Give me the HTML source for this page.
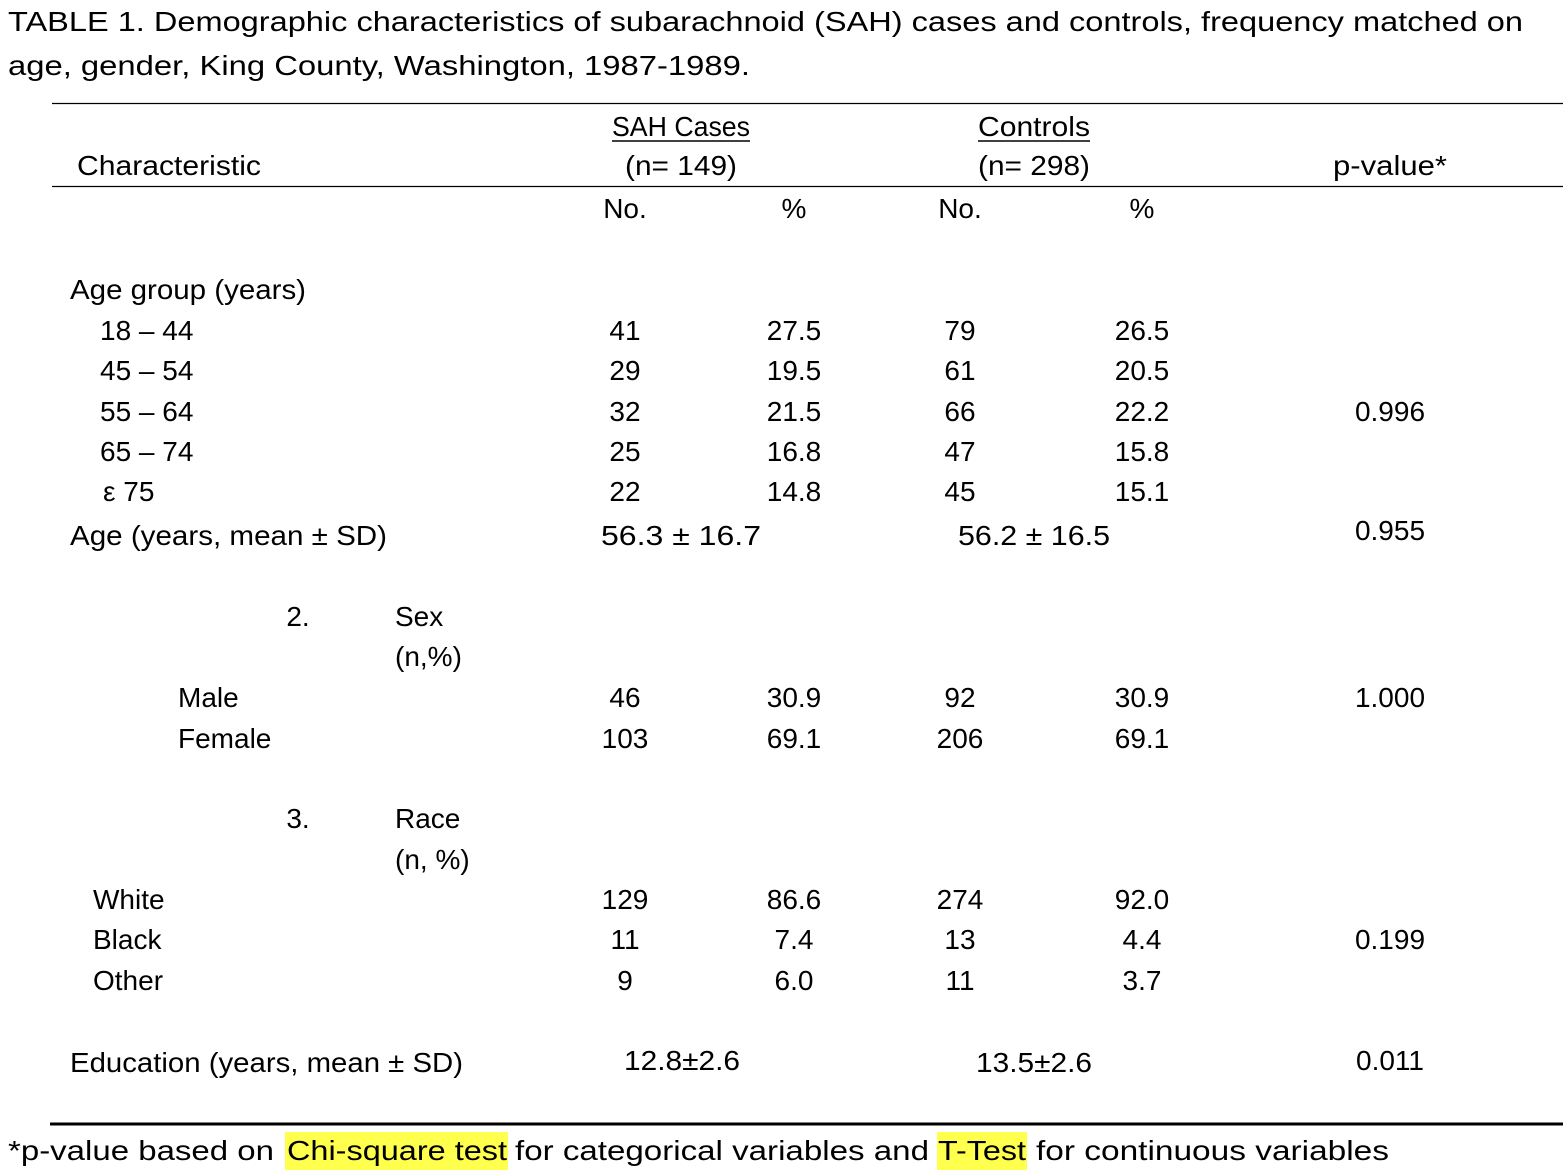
<!DOCTYPE html>
<html><head><meta charset="utf-8"><style>
html,body{margin:0;padding:0;background:#fff;}
svg{display:block;}
text{font-family:"Liberation Sans","DejaVu Sans",sans-serif;font-size:28px;fill:#000;}
.m{text-anchor:middle;}
</style></head><body>
<svg width="1568" height="1176" viewBox="0 0 1568 1176" xmlns="http://www.w3.org/2000/svg">
<g transform="translate(0,-1)">
<text x="8" y="32" textLength="1515" lengthAdjust="spacingAndGlyphs">TABLE 1.  Demographic characteristics of subarachnoid (SAH) cases and controls, frequency matched on</text>
<text x="8" y="76" textLength="742" lengthAdjust="spacingAndGlyphs">age, gender, King County, Washington, 1987-1989.</text>
</g>
<line x1="52" y1="103.5" x2="1563" y2="103.5" stroke="#000" stroke-width="1.2"/>
<g transform="translate(0,-1)">
<text x="681" y="137" class="m" textLength="138" lengthAdjust="spacingAndGlyphs">SAH Cases</text>
<text x="1034" y="137" class="m" textLength="112" lengthAdjust="spacingAndGlyphs">Controls</text>
<text x="77" y="176" textLength="184" lengthAdjust="spacingAndGlyphs">Characteristic</text>
<text x="681" y="176" class="m" textLength="112" lengthAdjust="spacingAndGlyphs">(n= 149)</text>
<text x="1034" y="176" class="m" textLength="112" lengthAdjust="spacingAndGlyphs">(n= 298)</text>
<text x="1390" y="176" class="m" textLength="114" lengthAdjust="spacingAndGlyphs">p-value*</text>
</g>
<line x1="612" y1="141" x2="750" y2="141" stroke="#000" stroke-width="1.5"/>
<line x1="978" y1="141" x2="1090" y2="141" stroke="#000" stroke-width="1.5"/>
<line x1="52" y1="186.5" x2="1563" y2="186.5" stroke="#000" stroke-width="1.2"/>
<g transform="translate(0,-1)">
<text x="625" y="219" class="m">No.</text><text x="794" y="219" class="m">%</text>
<text x="960" y="219" class="m">No.</text><text x="1142" y="219" class="m">%</text>

<text x="70" y="300" textLength="236" lengthAdjust="spacingAndGlyphs">Age group (years)</text>
<text x="100" y="341">18 – 44</text><text x="625" y="341" class="m">41</text><text x="794" y="341" class="m">27.5</text><text x="960" y="341" class="m">79</text><text x="1142" y="341" class="m">26.5</text>
<text x="100" y="381">45 – 54</text><text x="625" y="381" class="m">29</text><text x="794" y="381" class="m">19.5</text><text x="960" y="381" class="m">61</text><text x="1142" y="381" class="m">20.5</text>
<text x="100" y="422">55 – 64</text><text x="625" y="422" class="m">32</text><text x="794" y="422" class="m">21.5</text><text x="960" y="422" class="m">66</text><text x="1142" y="422" class="m">22.2</text><text x="1390" y="422" class="m">0.996</text>
<text x="100" y="462">65 – 74</text><text x="625" y="462" class="m">25</text><text x="794" y="462" class="m">16.8</text><text x="960" y="462" class="m">47</text><text x="1142" y="462" class="m">15.8</text>
<text x="103" y="502">ε 75</text><text x="625" y="502" class="m">22</text><text x="794" y="502" class="m">14.8</text><text x="960" y="502" class="m">45</text><text x="1142" y="502" class="m">15.1</text>
<text x="70" y="546" textLength="317" lengthAdjust="spacingAndGlyphs">Age (years,  mean ± SD)</text>
<text x="601" y="546" textLength="160" lengthAdjust="spacingAndGlyphs">56.3  ± 16.7</text>
<text x="958" y="546" textLength="152" lengthAdjust="spacingAndGlyphs">56.2 ± 16.5</text>
<text x="1390" y="541" class="m">0.955</text>

<text x="298" y="627" class="m">2.</text><text x="395" y="627">Sex</text>
<text x="395" y="667">(n,%)</text>
<text x="178" y="708">Male</text><text x="625" y="708" class="m">46</text><text x="794" y="708" class="m">30.9</text><text x="960" y="708" class="m">92</text><text x="1142" y="708" class="m">30.9</text><text x="1390" y="708" class="m">1.000</text>
<text x="178" y="749">Female</text><text x="625" y="749" class="m">103</text><text x="794" y="749" class="m">69.1</text><text x="960" y="749" class="m">206</text><text x="1142" y="749" class="m">69.1</text>

<text x="298" y="829" class="m">3.</text><text x="395" y="829">Race</text>
<text x="395" y="870">(n, %)</text>
<text x="93" y="910">White</text><text x="625" y="910" class="m">129</text><text x="794" y="910" class="m">86.6</text><text x="960" y="910" class="m">274</text><text x="1142" y="910" class="m">92.0</text>
<text x="93" y="950">Black</text><text x="625" y="950" class="m">11</text><text x="794" y="950" class="m">7.4</text><text x="960" y="950" class="m">13</text><text x="1142" y="950" class="m">4.4</text><text x="1390" y="950" class="m">0.199</text>
<text x="93" y="991">Other</text><text x="625" y="991" class="m">9</text><text x="794" y="991" class="m">6.0</text><text x="960" y="991" class="m">11</text><text x="1142" y="991" class="m">3.7</text>

<text x="70" y="1073" textLength="393" lengthAdjust="spacingAndGlyphs">Education (years, mean ± SD)</text>
<text x="682" y="1071" class="m" textLength="116" lengthAdjust="spacingAndGlyphs">12.8±2.6</text>
<text x="1034" y="1073" class="m" textLength="116" lengthAdjust="spacingAndGlyphs">13.5±2.6</text>
<text x="1390" y="1071" class="m">0.011</text>
</g>
<line x1="50" y1="1124" x2="1563" y2="1124" stroke="#000" stroke-width="3"/>
<rect x="285" y="1132" width="223" height="38" fill="#ffff4d"/>
<rect x="937" y="1132" width="90" height="38" fill="#ffff4d"/>
<g transform="translate(0,-1)">
<text x="8" y="1161" textLength="266" lengthAdjust="spacingAndGlyphs">*p-value based on</text>
<text x="287" y="1161" textLength="220" lengthAdjust="spacingAndGlyphs">Chi-square test</text>
<text x="515" y="1161" textLength="414" lengthAdjust="spacingAndGlyphs">for categorical variables and</text>
<text x="938" y="1161" textLength="88" lengthAdjust="spacingAndGlyphs">T-Test</text>
<text x="1036" y="1161" textLength="353" lengthAdjust="spacingAndGlyphs">for continuous variables</text>
</g>
</svg>
</body></html>
